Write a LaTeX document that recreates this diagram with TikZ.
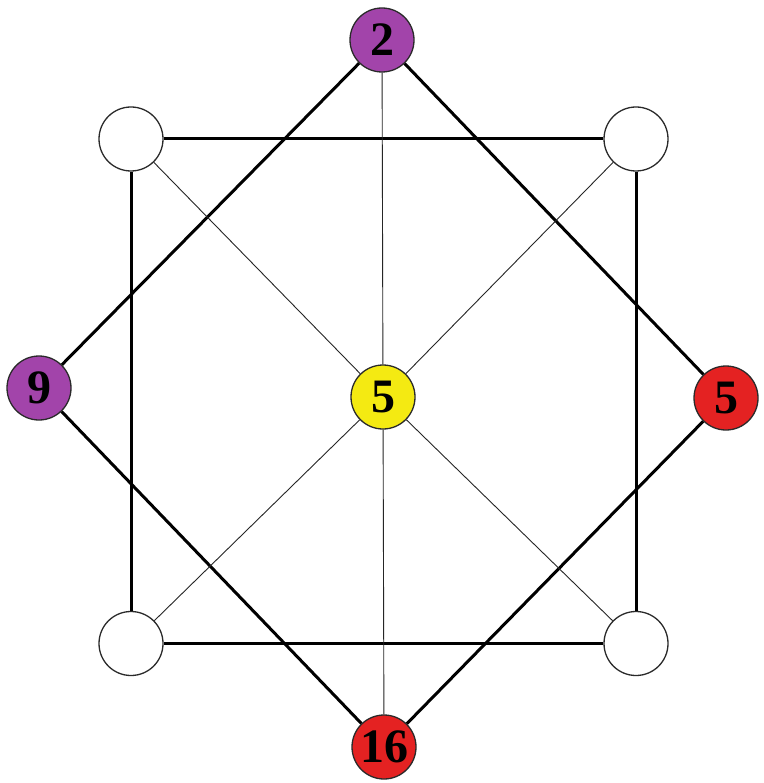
\documentclass[tikz,border=0pt]{standalone}
\usepackage{fontspec}
\setmainfont{Liberation Serif}
\definecolor{purp}{HTML}{A244AA}
\definecolor{redn}{HTML}{E42222}
\definecolor{yel}{HTML}{F4EA12}
\definecolor{edge}{HTML}{2A2A2A}
\begin{document}
\begin{tikzpicture}[x=1pt,y=-1pt,
  ball/.style={circle,draw=edge,line width=1.3pt,minimum size=64pt,inner sep=0pt,
    font=\fontsize{48}{48}\selectfont\bfseries,text=black},
  emptyball/.style={ball,fill=white},
  thickline/.style={line width=3pt,black},
  thinline/.style={line width=0.9pt,black!85}]
\useasboundingbox (0,0) rectangle (763,783);
\fill[white] (0,0) rectangle (763,783);
% corner nodes
\node[emptyball] (tl) at (131,139) {};
\node[emptyball] (tr) at (636,139) {};
\node[emptyball] (bl) at (131,643.5) {};
\node[emptyball] (br) at (636,643.5) {};
% diamond nodes
\node[ball,fill=purp] (top) at (382,40) {2};
\node[ball,fill=purp] (left) at (39,388) {9};
\node[ball,fill=redn] (right) at (726,398) {5};
\node[ball,fill=redn] (bot) at (384,747) {16};
\node[ball,fill=yel] (c) at (383,397) {5};
% thick square
\draw[thickline] (tl) -- (tr);
\draw[thickline] (tr) -- (br);
\draw[thickline] (br) -- (bl);
\draw[thickline] (bl) -- (tl);
% thick diamond
\draw[thickline] (top) -- (left);
\draw[thickline] (top) -- (right);
\draw[thickline] (left) -- (bot);
\draw[thickline] (right) -- (bot);
% thin spokes
\draw[thinline] (top) -- (c);
\draw[thinline] (c) -- (bot);
\draw[thinline] (tl) -- (c);
\draw[thinline] (tr) -- (c);
\draw[thinline] (bl) -- (c);
\draw[thinline] (br) -- (c);
\end{tikzpicture}
\end{document}
